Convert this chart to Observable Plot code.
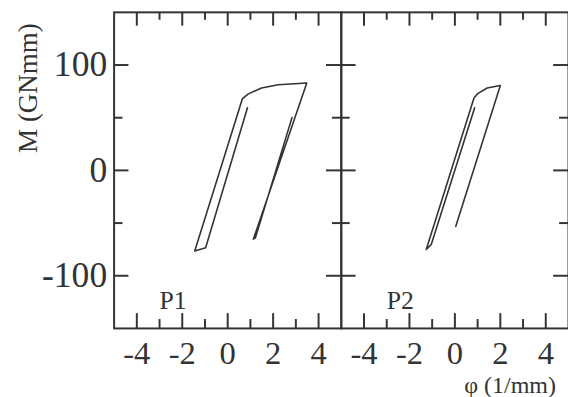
<!DOCTYPE html>
<html><head><meta charset="utf-8">
<script src="https://cdn.jsdelivr.net/npm/d3@7"></script>
<script src="https://cdn.jsdelivr.net/npm/@observablehq/plot@0.6"></script>
<style>
html,body{margin:0;padding:0;background:#fff;overflow:hidden;width:568px;height:397px}
#chart{position:relative;width:568px;height:397px;overflow:hidden}
.ttl{position:absolute;font-family:'Liberation Serif','Times New Roman',serif;color:#333;white-space:nowrap;line-height:1;z-index:2}
#ytitle{left:28px;top:88px;font-size:27px;transform:translate(-50%,-50%) rotate(-90deg)}
#xtitle{right:12px;top:373px;font-size:24px}
</style></head><body><div id="chart"><div id="ytitle" class="ttl"></div><div id="xtitle" class="ttl"></div></div>
<script>
const panels = ["P1", "P2"];
const p1X = [0.87, -0.97, -1.45, 0.65, 0.91, 1.49, 2.22, 3.48, 1.13, 1.22, 2.83];
const p1Y = [59.4, -73.4, -76.5, 68.2, 72.6, 78.2, 81.3, 82.9, -65.3, -64.0, 50.1];
const p2X = [0.87, -1.04, -1.26, 0.84, 0.99, 1.42, 2.0, 0.04];
const p2Y = [59.4, -70.3, -75.0, 68.8, 72.6, 78.2, 80.6, -53.1];
const xMajor = [-4, -2, 0, 2, 4];
const xMinor = [-3, -1, 1, 3];
const yMajor = [-100, 0, 100];
const yMinor = [-50, 50];
const xLabels = ["-4", "-2", "0", "2", "4"];
const yLabels = ["-100", "0", "100"];
const yTitle = "M (GNmm)";
const xTitle = "φ (1/mm)";

const curves = [
  ...p1X.map((x, i) => ({panel: "P1", x, y: p1Y[i]})),
  ...p2X.map((x, i) => ({panel: "P2", x, y: p2Y[i]}))
];

const ink = "#333";
const serif = "'Liberation Serif', 'Times New Roman', serif";
const tk = {stroke: ink, strokeWidth: 2};

const chart = Plot.plot({
  width: 575, height: 397, marginLeft: 115, marginRight: 0, marginTop: 12, marginBottom: 65,
  style: {background: "#fff", fontFamily: serif},
  fx: {domain: panels, padding: 0, axis: null},
  x: {domain: [-5, 5]},
  y: {domain: [-150, 150]},
  marks: [
    Plot.frame({stroke: ink, strokeWidth: 2}),
    Plot.tickX(xMajor, {x: d => d, insetTop: 305, ...tk}),
    Plot.tickX(xMajor, {x: d => d, insetBottom: 306, ...tk}),
    Plot.tickX(xMinor, {x: d => d, insetTop: 311, ...tk}),
    Plot.tickX(xMinor, {x: d => d, insetBottom: 312, ...tk}),
    Plot.tickY(yMajor, {y: d => d, insetRight: 215, ...tk}),
    Plot.tickY(yMajor, {y: d => d, insetLeft: 215, ...tk}),
    Plot.tickY(yMinor, {y: d => d, insetRight: 221, ...tk}),
    Plot.tickY(yMinor, {y: d => d, insetLeft: 221, ...tk}),
    Plot.axisX(xMajor, {tickSize: 0, tickPadding: 13, label: null, fontSize: 33, fontFamily: serif, fill: ink,
      tickFormat: d => xLabels[xMajor.indexOf(d)]}),
    Plot.axisY(yMajor, {tickSize: 0, tickPadding: 7, label: null, fontSize: 36, fontFamily: serif, fill: ink,
      tickFormat: d => yLabels[yMajor.indexOf(d)]}),
    Plot.line(curves, {fx: "panel", x: "x", y: "y", stroke: ink, strokeWidth: 1.6}),
    Plot.text(panels, {fx: d => d, text: d => d, frameAnchor: "bottom-left", dx: 46, dy: -20,
      lineAnchor: "bottom", textAnchor: "start", fontSize: 26, fontFamily: serif, fill: ink})
  ]
});

document.getElementById("chart").appendChild(chart);
document.getElementById("ytitle").textContent = yTitle;
document.getElementById("xtitle").textContent = xTitle;
</script></body></html>
